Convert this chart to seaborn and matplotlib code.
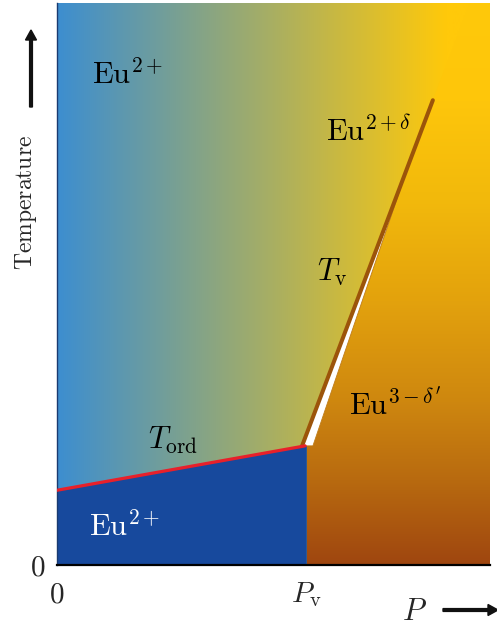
import numpy as np
import matplotlib
matplotlib.use("Agg")
import matplotlib.pyplot as plt
import seaborn as sns
from matplotlib.patches import Polygon, FancyArrow
from matplotlib.colors import to_rgb

sns.set_theme(style="white")
plt.rcParams["mathtext.fontset"] = "cm"
plt.rcParams["font.family"] = ["DejaVu Serif"]

# ---- data (schematic, axes normalised 0..1) ----
P_v = 0.577
P_ord = [0.0, 0.573]
T_ord = [0.133, 0.212]
P_tv = [0.566, 0.868]
T_tv = [0.212, 0.827]
wedge_P = [0.566, 0.591, 0.792]
wedge_T = [0.212, 0.212, 0.667]
xtick_pos = [0.0, P_v]
xtick_labels = [r"$0$", r"$P_\mathrm{v}$"]
ytick_pos = [0.0]
ytick_labels = [r"$0$"]

W, H = 497, 630
fig = plt.figure(figsize=(W / 100, H / 100), dpi=100)
ax = fig.add_axes([57 / W, (H - 565) / H, 433 / W, 562 / H])
ax.set_xlim(0, 1)
ax.set_ylim(0, 1)

# horizontal gradient background (blue -> yellow)
hx = [0.0, 0.9, 1.0]
hc = np.array([to_rgb(c) for c in ["#3d8ed0", "#ffc90a", "#ffc90a"]])
xs = np.linspace(0, 1, 400)
grad_h = np.stack([np.interp(xs, hx, hc[:, k]) for k in range(3)], axis=1)[None, :, :]
ax.imshow(grad_h, extent=[0, 1, 0, 1], aspect="auto", zorder=0, interpolation="bilinear")

# orange region with vertical gradient (stops from top=1 to bottom=0)
stop_y = [1.0, 0.827, 0.65, 0.47, 0.29, 0.15, 0.0]
stop_c = ["#ffc90a", "#fec60b", "#f2b90c", "#e3a20d", "#ce870f", "#b86a10", "#9f460f"]
ys = np.linspace(1, 0, 400)
sy = np.array(stop_y)[::-1]
sc = np.array([to_rgb(c) for c in stop_c])[::-1]
grad_v = np.stack([np.interp(ys, sy, sc[:, k]) for k in range(3)], axis=1)[:, None, :]
x_top = P_tv[1] + (1 - T_tv[1]) * (P_tv[1] - P_tv[0]) / (T_tv[1] - T_tv[0])
poly_or = Polygon([(P_v, 0), (P_v, T_ord[1]), (wedge_P[1], wedge_T[1]),
                   (wedge_P[2], wedge_T[2]), (P_tv[1], T_tv[1]), (x_top, 1), (1, 1), (1, 0)],
                  closed=True, facecolor="none", edgecolor="none")
ax.add_patch(poly_or)
im = ax.imshow(grad_v, extent=[P_v, 1, 0, 1], aspect="auto", zorder=1,
               interpolation="bilinear")
im.set_clip_path(poly_or)

# blue ordered region
ax.add_patch(Polygon([(0, 0), (0, T_ord[0]), (P_v, T_ord[1]), (P_v, 0)], closed=True,
                     facecolor="#17499d", edgecolor="none", zorder=2))

# white wedge
ax.add_patch(Polygon(list(zip(wedge_P, wedge_T)), closed=True, facecolor="white",
                     edgecolor="#c07a18", lw=0.6, zorder=3))

# transition lines
sns.lineplot(x=P_ord, y=T_ord, color="#e8202a", lw=2.3, ax=ax, zorder=5)
sns.lineplot(x=P_tv, y=T_tv, color="#9c540a", lw=2.9, ax=ax, zorder=4,
             solid_capstyle="round")

# labels inside
ax.text(0.162, 0.871, r"$\mathrm{Eu}^{2+}$", fontsize=22, ha="center", va="center", color="black")
ax.text(0.72, 0.771, r"$\mathrm{Eu}^{2+\delta}$", fontsize=22, ha="center", va="center", color="black")
ax.text(0.637, 0.521, r"$T_\mathrm{v}$", fontsize=22, ha="center", va="center", color="black")
ax.text(0.78, 0.283, r"$\mathrm{Eu}^{3-\delta'}$", fontsize=22, ha="center", va="center", color="black")
ax.text(0.268, 0.222, r"$T_\mathrm{ord}$", fontsize=22, ha="center", va="center", color="black")
ax.text(0.155, 0.068, r"$\mathrm{Eu}^{2+}$", fontsize=22, ha="center", va="center", color="white")

# axes styling
ax.set_xticks(xtick_pos)
ax.set_xticklabels(xtick_labels, fontsize=21)
ax.set_yticks(ytick_pos)
ax.set_yticklabels(ytick_labels, fontsize=21)
ax.tick_params(axis="both", length=0)
ax.tick_params(axis="x", pad=11)
ax.tick_params(axis="y", pad=8)
for s in ["top", "right"]:
    ax.spines[s].set_visible(False)
ax.spines["bottom"].set_color("black")
ax.spines["bottom"].set_linewidth(1.6)
ax.spines["left"].set_color("#1a3a70")
ax.spines["left"].set_linewidth(1.0)
ax.grid(False)

# outer axis titles with arrows
fig.text(26 / W, 1 - 202 / H, r"$\mathrm{Temperature}$", rotation=90, fontsize=17,
         ha="center", va="center")
fig.patches.append(FancyArrow(
    31 / W, 1 - 107 / H, 0, (107 - 40) / H, width=2.8 / W, head_width=11 / W,
    head_length=10 / H, length_includes_head=False, color="#111111",
    transform=fig.transFigure, figure=fig))
fig.text(415 / W, 1 - 611 / H, r"$P$", fontsize=22, ha="center", va="center")
fig.patches.append(FancyArrow(
    443 / W, 1 - 610 / H, (488 - 443) / W, 0, width=2.8 / H, head_width=11 / H,
    head_length=10 / W, length_includes_head=False, color="#111111",
    transform=fig.transFigure, figure=fig))

fig.savefig("out.png", dpi=100)
